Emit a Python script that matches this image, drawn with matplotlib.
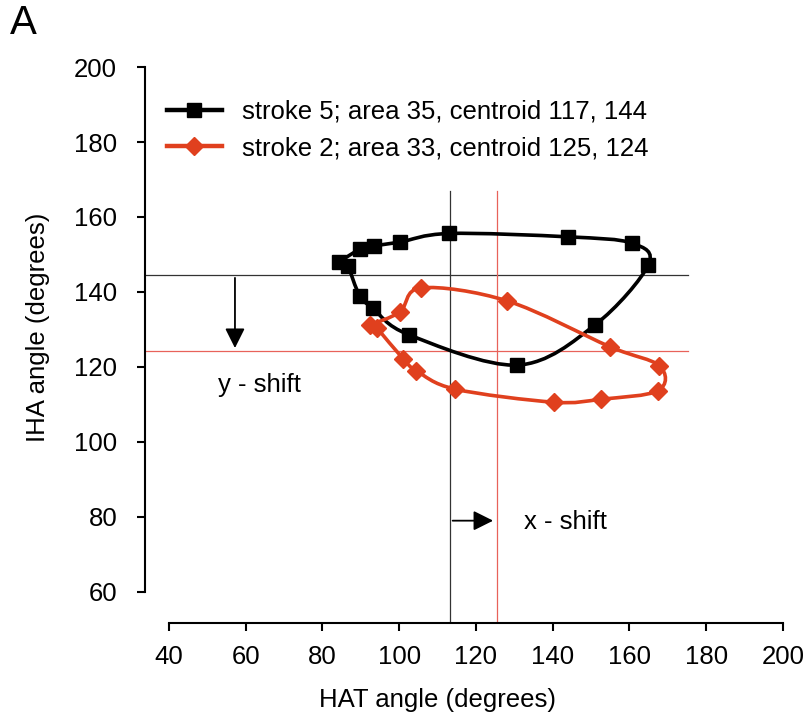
import numpy as np
import matplotlib
matplotlib.use("Agg")
import matplotlib.pyplot as plt
from matplotlib.path import Path
from matplotlib.patches import PathPatch
from matplotlib.lines import Line2D

plt.rcParams['font.family'] = ['Liberation Sans', 'DejaVu Sans']

# stroke 5 (black squares), in drawing order
s5_hat = [84.4, 89.8, 93.4, 100.2, 113.0, 144.1, 160.7, 164.9, 151.0, 130.8, 102.5, 93.2, 89.7, 86.7]
s5_iha = [148.1, 151.4, 152.3, 153.3, 155.6, 154.7, 153.0, 147.2, 131.2, 120.5, 128.6, 135.6, 139.0, 147.0]

# stroke 2 (red diamonds), in drawing order
s2_hat = [92.4, 100.2, 105.8, 128.2, 154.9, 167.8, 167.5, 152.7, 140.3, 114.5, 104.5, 101.1, 94.3]
s2_iha = [131.2, 134.7, 141.1, 137.6, 125.4, 120.3, 113.7, 111.4, 110.6, 114.1, 119.0, 122.1, 130.3]

labels = ['stroke 5; area 35, centroid 117, 144',
          'stroke 2; area 33, centroid 125, 124']

# centroid cross-hair lines
cx_black, cy_black = 113.2, 144.5
cx_red, cy_red = 125.5, 124.3

RED = '#e0401e'
RED_THIN = '#e8625a'
FS = 18.5


def smooth_path(xs, ys):
    # excel-like smoothed line: cubic bezier segments through the points
    p = np.column_stack([xs, ys])
    n = len(p)
    verts = [p[0]]
    codes = [Path.MOVETO]
    for i in range(n - 1):
        p0 = p[i - 1] if i > 0 else p[i]
        p1, p2 = p[i], p[i + 1]
        p3 = p[i + 2] if i + 2 < n else p[i + 1]
        c1 = p1 + (p2 - p0) / 6.0
        c2 = p2 - (p3 - p1) / 6.0
        verts += [c1, c2, p2]
        codes += [Path.CURVE4] * 3
    return Path(verts, codes)


fig = plt.figure(figsize=(8.09, 7.2), dpi=100)
ax = fig.add_axes([0.1792, 0.1347, 0.7886, 0.7722])
ax.set_xlim(33.75, 200)
ax.set_ylim(51.7, 200)

# cross-hair lines
ax.plot([33.75, 175.2], [cy_black, cy_black], color='#333333', lw=0.9, zorder=1)
ax.plot([cx_black, cx_black], [51.7, 167.0], color='#333333', lw=0.9, zorder=1)
ax.plot([33.75, 175.2], [cy_red, cy_red], color=RED_THIN, lw=0.9, zorder=1)
ax.plot([cx_red, cx_red], [51.7, 167.0], color=RED_THIN, lw=0.9, zorder=1)

# loops
ax.add_patch(PathPatch(smooth_path(s5_hat, s5_iha), fill=False, edgecolor='black', lw=2.6, zorder=3))
ax.plot(s5_hat, s5_iha, ls='none', marker='s', ms=9.5, color='black', zorder=4)
ax.add_patch(PathPatch(smooth_path(s2_hat, s2_iha), fill=False, edgecolor=RED, lw=2.6, zorder=5))
ax.plot(s2_hat, s2_iha, ls='none', marker='D', ms=9, color=RED, zorder=6)

# shift arrows
ax.annotate('', xy=(57.2, cy_red), xytext=(57.2, cy_black),
            arrowprops=dict(arrowstyle='-|>', color='black', lw=1.3, mutation_scale=30))
ax.text(63.5, 115.3, 'y - shift', fontsize=FS, ha='center', va='center')
ax.annotate('', xy=(cx_red - 0.3, 79.0), xytext=(cx_black, 79.0),
            arrowprops=dict(arrowstyle='-|>', color='black', lw=1.3, mutation_scale=30))
ax.text(143.3, 78.6, 'x - shift', fontsize=FS, ha='center', va='center')

# legend
handles = [Line2D([], [], color='black', lw=3.2, marker='s', ms=9.5),
           Line2D([], [], color=RED, lw=3.2, marker='D', ms=9)]
ax.legend(handles, labels, loc='upper left', bbox_to_anchor=(0.034, 0.9415),
          frameon=False, fontsize=FS, handlelength=2.14, handletextpad=0.78,
          labelspacing=0.5, borderpad=0, borderaxespad=0)

# axes styling
for side in ['top', 'right']:
    ax.spines[side].set_visible(False)
ax.spines['left'].set_bounds(60, 200)
ax.spines['bottom'].set_bounds(40, 200)
ax.spines['left'].set_linewidth(1.5)
ax.spines['bottom'].set_linewidth(1.5)
ax.set_xticks(np.arange(40, 201, 20))
ax.set_yticks(np.arange(60, 201, 20))
ax.tick_params(axis='both', labelsize=FS, width=1.5, length=6)
ax.tick_params(axis='y', pad=14)
ax.tick_params(axis='x', pad=10)

ax.set_xlabel('HAT angle (degrees)', fontsize=FS)
ax.set_ylabel('IHA angle (degrees)', fontsize=FS)
ax.xaxis.set_label_coords(0.458, -0.117)
ax.yaxis.set_label_coords(-0.149, 0.531)

fig.text(0.012, 0.968, 'A', fontsize=29, ha='left', va='center')

fig.savefig('out.png', dpi=100)
